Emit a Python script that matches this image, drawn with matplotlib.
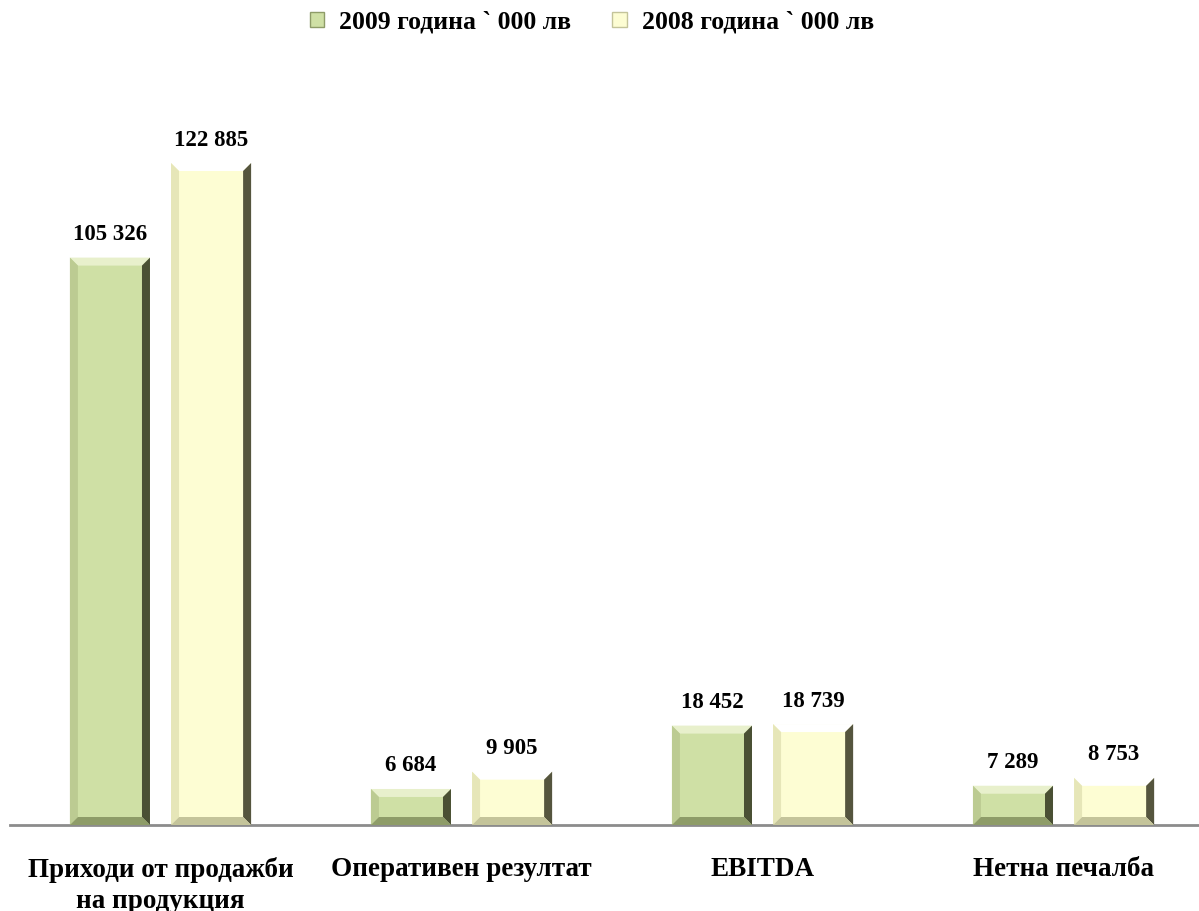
import matplotlib.pyplot as plt
from matplotlib.patches import Polygon, Patch
from matplotlib.transforms import IdentityTransform
import numpy as np

categories = ['Приходи от продажби\nна продукция', 'Оперативен резултат', 'EBITDA', 'Нетна печалба']
series_names = ['2009 година ` 000 лв', '2008 година ` 000 лв']
values_2009 = [105326, 6684, 18452, 7289]
values_2008 = [122885, 9905, 18739, 8753]
labels_2009 = ['105 326', '6 684', '18 452', '7 289']
labels_2008 = ['122 885', '9 905', '18 739', '8 753']

# face, top, left, right, bottom
green = ['#cfe0a5', '#e8f0cc', '#bccb92', '#4a5034', '#8e9c68']
yellow = ['#fdfdd3', '#ffffff', '#e6e6b8', '#55553e', '#c4c49a']

plt.rcParams['font.family'] = ['Liberation Serif', 'DejaVu Serif']
plt.rcParams['font.weight'] = 'bold'

fig = plt.figure(figsize=(11.99, 9.11), dpi=100)
ax = fig.add_axes([10 / 1199, 86 / 911, 1 - 10 / 1199, 725 / 911])

x = np.arange(len(categories))
w = 0.266
off = 0.168
b1 = ax.bar(x - off, values_2009, w, color=green[0], zorder=2)
b2 = ax.bar(x + off, values_2008, w, color=yellow[0], zorder=2)

ax.set_xlim(-0.5, 3.45)
ax.set_ylim(0, 134580)

for s in ['top', 'right', 'left']:
    ax.spines[s].set_visible(False)
ax.spines['bottom'].set_color('#8c8c8c')
ax.spines['bottom'].set_linewidth(2)
ax.set_yticks([])
ax.set_xticks(x)
ax.set_xticklabels(categories, fontsize=19.5, fontweight='bold', linespacing=1.3)
ax.tick_params(axis='x', length=0, pad=23)

fig.canvas.draw()


def bevel(bars, cols, d=8):
    for p in bars:
        bb = p.get_window_extent()
        x0, y0, x1, y1 = bb.x0, bb.y0, bb.x1, bb.y1
        dd = min(d, (y1 - y0) / 2.5)
        parts = [
            ([(x0, y1), (x1, y1), (x1 - dd, y1 - dd), (x0 + dd, y1 - dd)], cols[1]),
            ([(x0, y1), (x0 + dd, y1 - dd), (x0 + dd, y0 + dd), (x0, y0)], cols[2]),
            ([(x1, y1), (x1, y0), (x1 - dd, y0 + dd), (x1 - dd, y1 - dd)], cols[3]),
            ([(x0, y0), (x1, y0), (x1 - dd, y0 + dd), (x0 + dd, y0 + dd)], cols[4]),
        ]
        for pts, c in parts:
            ax.add_artist(Polygon(pts, closed=True, facecolor=c, edgecolor='none',
                                  transform=IdentityTransform(), zorder=3))


bevel(b1, green)
bevel(b2, yellow)

for bars, labs in [(b1, labels_2009), (b2, labels_2008)]:
    for p, t in zip(bars, labs):
        ax.annotate(t, (p.get_x() + p.get_width() / 2, p.get_height()),
                    xytext=(0, 9), textcoords='offset points', ha='center', va='bottom',
                    fontsize=16.5, fontweight='bold', zorder=4)

handles = [Patch(facecolor=green[0], edgecolor=green[4]), Patch(facecolor=yellow[0], edgecolor=yellow[4])]
fig.legend(handles, series_names, loc='center', bbox_to_anchor=(592 / 1199, 1 - 22 / 911), ncol=2,
           frameon=False, handlelength=0.55, handleheight=0.55, handletextpad=0.6,
           columnspacing=1.6, prop={'weight': 'bold', 'size': 18.5})

fig.savefig('out.png', dpi=100)
